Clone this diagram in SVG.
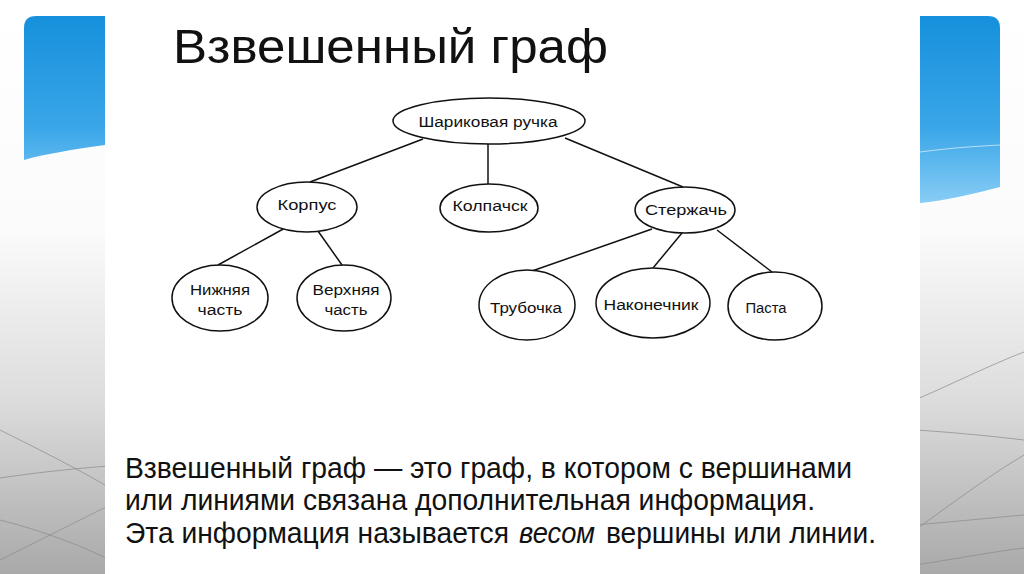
<svg xmlns="http://www.w3.org/2000/svg" width="1024" height="574" viewBox="0 0 1024 574">
  <defs>
    <linearGradient id="bg" x1="0" y1="0" x2="0" y2="1">
      <stop offset="0" stop-color="#ffffff"/>
      <stop offset="0.4" stop-color="#fbfbfb"/>
      <stop offset="0.7" stop-color="#dcdcdc"/>
      <stop offset="1" stop-color="#a9a9a9"/>
    </linearGradient>
    <linearGradient id="blue" x1="0" y1="0" x2="0" y2="1">
      <stop offset="0" stop-color="#1690dc"/>
      <stop offset="0.6" stop-color="#3aa6e8"/>
      <stop offset="1" stop-color="#88cdf5"/>
    </linearGradient>
    <style>
      .node ellipse { fill: #ffffff; stroke: #111111; stroke-width: 1.5; }
      .node text { font-family: "Liberation Sans", Arial, sans-serif; font-size: 15.5px; fill: #111111; text-anchor: middle; }
      #connectors line { stroke: #111111; stroke-width: 1.5; }
      .body { font-family: "Liberation Sans", Arial, sans-serif; font-size: 29px; fill: #111111; }
      .bgline { fill: none; stroke: #8a8a8a; stroke-width: 1; opacity: 0.7; }
    </style>
  </defs>

  <!-- slide background -->
  <rect x="0" y="0" width="1024" height="574" fill="url(#bg)"/>
  <path class="bgline" d="M0,430 C40,450 80,470 110,488"/>
  <path class="bgline" d="M0,478 C40,472 80,468 110,466"/>
  <path class="bgline" d="M0,520 C40,530 80,545 110,560"/>
  <path class="bgline" d="M0,560 C40,540 80,520 110,505"/>
  <path class="bgline" d="M915,400 C950,385 990,365 1024,352"/>
  <path class="bgline" d="M915,430 C950,432 990,436 1024,440"/>
  <path class="bgline" d="M915,530 C950,505 990,475 1024,455"/>
  <path class="bgline" d="M915,525 C950,522 990,518 1024,515"/>
  <path class="bgline" d="M915,565 C950,560 990,552 1024,548"/>

  <!-- blue band -->
  <path d="M24,28 Q24,16 36,16 L988,16 Q1000,16 1000,28 L1000,187 C980,192 950,200 920,203 L500,180 L105,145 C70,150 45,154 24,160 Z" fill="url(#blue)"/>
  <path d="M920,152 C950,148 980,146 1000,145" fill="none" stroke="#cfeafb" stroke-width="1.2" opacity="0.8"/>

  <!-- top right small circle -->
  <circle cx="905" cy="2" r="12" fill="#ffffff" stroke="#e2e2e2" stroke-width="1.5"/>

  <!-- white picture panel -->
  <rect x="105" y="0" width="815" height="574" fill="#ffffff"/>

  <!-- title -->
  <text x="173" y="63" font-family="Liberation Sans, Arial, sans-serif" font-size="49" fill="#111111" textLength="435" lengthAdjust="spacingAndGlyphs">Взвешенный граф</text>

  <!-- connectors -->
  <g id="connectors">
    <line x1="423" y1="139" x2="310" y2="182"/>
    <line x1="488" y1="144" x2="488" y2="184"/>
    <line x1="565" y1="138" x2="683" y2="187"/>
    <line x1="285" y1="228" x2="218" y2="265"/>
    <line x1="318" y1="231" x2="342" y2="265"/>
    <line x1="652" y1="229" x2="532" y2="271"/>
    <line x1="682" y1="233" x2="653" y2="268"/>
    <line x1="717" y1="230" x2="772" y2="272"/>
  </g>

  <!-- nodes -->
  <g id="node-root" class="node">
    <ellipse cx="489" cy="121" rx="96" ry="23"/>
    <text x="488" y="127" font-size="16.5" textLength="139" lengthAdjust="spacingAndGlyphs">Шариковая ручка</text>
  </g>
  <g id="node-korpus" class="node">
    <ellipse cx="307" cy="207" rx="50" ry="25"/>
    <text x="307" y="210" textLength="59" lengthAdjust="spacingAndGlyphs">Корпус</text>
  </g>
  <g id="node-kolpachok" class="node">
    <ellipse cx="489" cy="208" rx="49" ry="24"/>
    <text x="490" y="211" textLength="75" lengthAdjust="spacingAndGlyphs">Колпачск</text>
  </g>
  <g id="node-sterzhen" class="node">
    <ellipse cx="685" cy="210" rx="50" ry="23"/>
    <text x="686" y="215" textLength="82" lengthAdjust="spacingAndGlyphs">Стержачь</text>
  </g>
  <g id="node-nizhnyaya" class="node">
    <ellipse cx="220" cy="298" rx="48" ry="33"/>
    <text x="220" y="295" textLength="60" lengthAdjust="spacingAndGlyphs">Нижняя</text>
    <text x="220" y="315" textLength="45" lengthAdjust="spacingAndGlyphs">часть</text>
  </g>
  <g id="node-verkhnyaya" class="node">
    <ellipse cx="344" cy="298" rx="47" ry="33"/>
    <text x="346" y="295" textLength="67" lengthAdjust="spacingAndGlyphs">Верхняя</text>
    <text x="346" y="315" textLength="43" lengthAdjust="spacingAndGlyphs">часть</text>
  </g>
  <g id="node-trubochka" class="node">
    <ellipse cx="527" cy="305" rx="48" ry="35"/>
    <text x="526" y="313" textLength="72" lengthAdjust="spacingAndGlyphs">Трубочка</text>
  </g>
  <g id="node-nakonechnik" class="node">
    <ellipse cx="653" cy="303" rx="57" ry="35"/>
    <text x="651" y="310" textLength="95" lengthAdjust="spacingAndGlyphs">Наконечник</text>
  </g>
  <g id="node-pasta" class="node">
    <ellipse cx="775" cy="306" rx="47" ry="34"/>
    <text x="766" y="313" textLength="41" lengthAdjust="spacingAndGlyphs">Паста</text>
  </g>

  <!-- description -->
  <text class="body" x="125" y="478" textLength="727" lengthAdjust="spacingAndGlyphs">Взвешенный граф — это граф, в котором с вершинами</text>
  <text class="body" x="125" y="510" textLength="690" lengthAdjust="spacingAndGlyphs">или линиями связана дополнительная информация.</text>
  <text class="body" x="125" y="543" textLength="384" lengthAdjust="spacingAndGlyphs">Эта информация называется</text>
  <text class="body" x="519" y="543" font-style="italic" textLength="76" lengthAdjust="spacingAndGlyphs">весом</text>
  <text class="body" x="606" y="543" textLength="270" lengthAdjust="spacingAndGlyphs">вершины или линии.</text>
</svg>
